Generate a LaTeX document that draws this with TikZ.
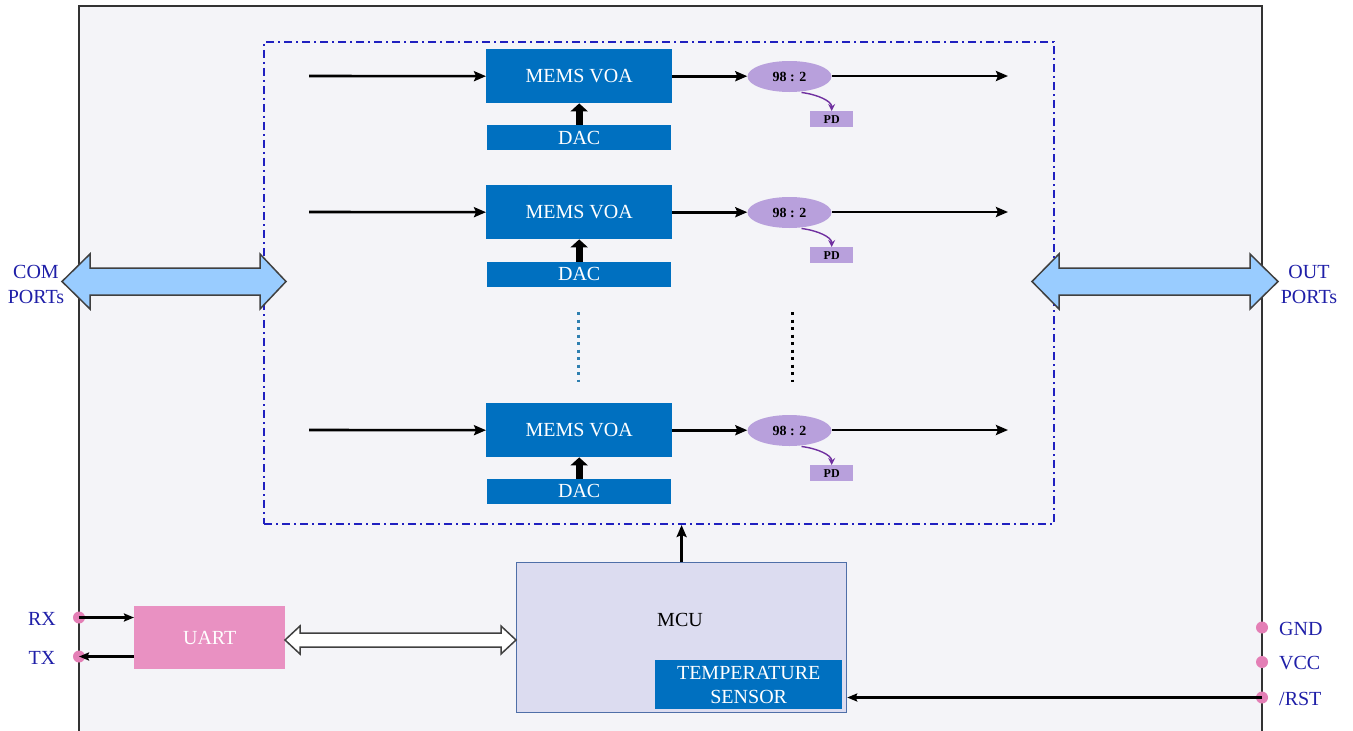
\documentclass[tikz,border=0pt]{standalone}
\usepackage{fontspec}
\setmainfont{Liberation Serif}
\usetikzlibrary{arrows.meta,shapes.geometric,calc}
\definecolor{bg}{HTML}{F4F4F8}
\definecolor{voablue}{HTML}{0070C0}
\definecolor{lav}{HTML}{B8A0DC}
\definecolor{purp}{HTML}{7030A0}
\definecolor{navy}{HTML}{1F1FA8}
\definecolor{grpblue}{HTML}{2020C0}
\definecolor{pinc}{HTML}{E47FB6}
\definecolor{uartc}{HTML}{E991C2}
\definecolor{mcufill}{HTML}{DCDCF0}
\definecolor{mculine}{HTML}{4F6FA8}
\definecolor{portfill}{HTML}{99CCFF}
\definecolor{dotteal}{HTML}{2E7FB0}
\begin{document}
\begin{tikzpicture}[x=1pt,y=-1pt,
  voa/.style={fill=voablue, text=white, minimum width=186pt, minimum height=54pt, inner sep=0pt, anchor=north west, font=\fontsize{20}{24}\selectfont},
  dacbox/.style={fill=voablue, text=white, minimum width=184pt, minimum height=25pt, inner sep=0pt, anchor=north west, font=\fontsize{20}{24}\selectfont},
  split/.style={ellipse, fill=lav, minimum width=84pt, minimum height=31pt, inner sep=0pt, font=\bfseries\fontsize{14}{16}\selectfont},
  pdbox/.style={fill=lav, minimum width=43pt, minimum height=16pt, inner sep=0pt, anchor=north west, font=\bfseries\fontsize{12}{13}\selectfont},
  sig/.style={line width=2.6pt, -{Stealth[length=12pt,width=10pt,inset=2pt]}},
  sigs/.style={line width=2.4pt, -{Stealth[length=10pt,width=8pt,inset=1.5pt]}},
  uparr/.style={line width=7pt, -{Triangle[length=8pt,width=17pt]}},
  lbl/.style={text=navy, inner sep=0pt, font=\fontsize{20}{25}\selectfont},
  pinpt/.style={circle, fill=pinc, minimum size=12pt, inner sep=0pt},
  blockarr/.style={fill=portfill, draw=black!75, line width=1.5pt, line join=miter},
  hollow/.style={fill=white, draw=black!75, line width=1.5pt, line join=miter},
]
\useasboundingbox (0,0) rectangle (1353,731);
\fill[white] (0,0) rectangle (1353,731);
\fill[bg] (79,6) rectangle (1262,731);
\draw[black!80, line width=1.5pt] (79,731) -- (79,6) -- (1262,6) -- (1262,731);

% group dashed box
\node[draw=grpblue, line width=2pt, dash pattern=on 8pt off 4pt on 2pt off 4pt, minimum width=790pt, minimum height=482pt, inner sep=0pt, anchor=north west] (grp) at (263,41) {};

% channel rows
\foreach \i/\my/\dy in {1/49/125, 2/185/261.5, 3/403/478.5}{
  \node[voa] (m\i) at (486,\my) {MEMS VOA};
  \node[dacbox] (d\i) at (487,\dy) {DAC};
  \node[split] (s\i) at (789.5,\my+27.5) {98 : 2};
  \node[pdbox] (p\i) at (810,\my+62) {PD};
  \coordinate (in\i) at (309,\my+27);
  \coordinate (out\i) at (1008,\my+27);
  \draw[sig] (in\i) -- (m\i.west);
  \draw[sig] (m\i.east) -- (s\i.west |- m\i.east);
  \draw[sig] (s\i.east |- out\i) -- (out\i);
  \draw[uparr] (d\i.north) -- (m\i.south);
  \draw[purp, line width=1.4pt, -{Stealth[length=7pt,width=7pt]}] ($(s\i.center)+(12,16)$) .. controls ($(s\i.center)+(28,18)$) and ($(p\i.north)+(0,-10)$) .. (p\i.north);
}

% ellipsis dots
\draw[dotteal, line width=3pt, dash pattern=on 3pt off 4.5pt] (578,312) -- (578,382);
\draw[black, line width=3pt, dash pattern=on 3pt off 4.5pt] (792,312) -- (792,382);

% port arrows
\draw[blockarr] (62,281.5) -- (90,254) -- (90,268) -- (260,268) -- (260,254) -- (286,281.5) -- (260,309) -- (260,295) -- (90,295) -- (90,309) -- cycle;
\draw[blockarr] (1032,281.5) -- (1059,254) -- (1059,268) -- (1250,268) -- (1250,254) -- (1278,281.5) -- (1250,309) -- (1250,295) -- (1059,295) -- (1059,309) -- cycle;
\node[lbl, align=center] (com) at (36,284) {COM\\PORTs};
\node[lbl, align=center] (outp) at (1309,284) {OUT\\PORTs};

% MCU
\node[fill=mcufill, draw=mculine, line width=1.2pt, minimum width=330pt, minimum height=150pt, inner sep=0pt, anchor=north west] (mcu) at (516,562) {};
\node[inner sep=0pt, font=\fontsize{20}{24}\selectfont] (mcutxt) at (680,620) {MCU};
\node[fill=voablue, text=white, minimum width=187pt, minimum height=49pt, inner sep=0pt, anchor=north west, align=center, font=\fontsize{20}{24}\selectfont] (ts) at (655,660) {TEMPERATURE\\SENSOR};
\draw[sig] (mcu.north) -- (mcu.north |- grp.south);

% UART
\node[fill=uartc, text=white, minimum width=151pt, minimum height=63pt, inner sep=0pt, anchor=north west, font=\fontsize{20}{24}\selectfont] (uart) at (134,606) {UART};
\draw[hollow] (285,640) -- (300,626) -- (300,633) -- (501,633) -- (501,626) -- (516,640) -- (501,654) -- (501,647) -- (300,647) -- (300,654) -- cycle;

% pins
\node[pinpt] (rx) at (79,617.5) {};
\node[pinpt] (tx) at (79,656.5) {};
\node[pinpt] (gnd) at (1262,627.5) {};
\node[pinpt] (vcc) at (1262,662) {};
\node[pinpt] (rst) at (1262,697.5) {};
\node[lbl] (rxl) at (42,619) {RX};
\node[lbl] (txl) at (42,657.5) {TX};
\node[lbl, anchor=west] (gndl) at (1279,629) {GND};
\node[lbl, anchor=west] (vccl) at (1279,663.5) {VCC};
\node[lbl, anchor=west] (rstl) at (1279,699) {/RST};
\draw[sigs] (rx.center) -- (uart.west |- rx);
\draw[sigs] (uart.west |- tx) -- (tx.center);
\draw[sigs] (rst.center) -- (mcu.east |- rst);
\end{tikzpicture}
\end{document}
